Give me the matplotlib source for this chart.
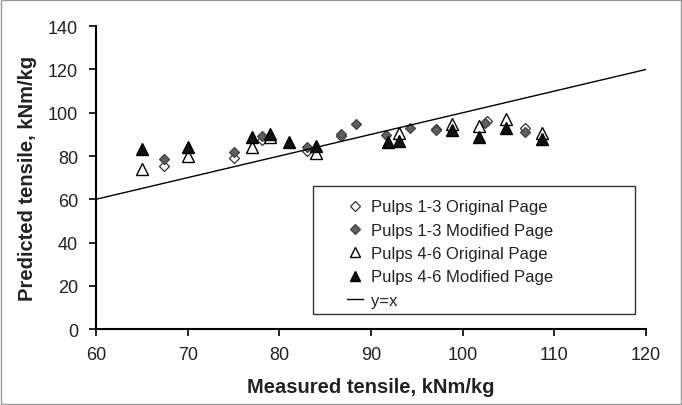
import matplotlib.pyplot as plt
from matplotlib.patches import Rectangle

plt.rcParams['font.family'] = ['Liberation Sans', 'DejaVu Sans']

# Pulps 1-3 Original Page (open diamonds)
orig13_x = [67.4, 75.0, 78.1, 83.0, 86.7, 97.1, 102.6, 106.8]
orig13_y = [75.2, 79.0, 87.4, 82.2, 89.2, 92.3, 96.2, 93.0]

# Pulps 1-3 Modified Page (grey diamonds)
mod13_x = [67.4, 75.0, 78.1, 83.0, 86.7, 88.35, 91.6, 94.2, 97.1, 102.4, 106.8]
mod13_y = [78.6, 82.0, 89.3, 84.0, 90.2, 95.0, 89.6, 93.0, 91.9, 95.3, 91.0]

# Pulps 4-6 Original Page (open triangles)
orig46_x = [65.0, 70.0, 77.0, 79.0, 84.0, 93.0, 98.8, 101.8, 104.7, 108.7]
orig46_y = [74.0, 80.2, 84.0, 88.8, 81.2, 90.7, 94.9, 93.8, 97.0, 90.8]

# Pulps 4-6 Modified Page (filled triangles)
mod46_x = [65.0, 70.0, 77.0, 79.0, 81.0, 84.0, 91.9, 93.0, 98.8, 101.8, 104.7, 108.7]
mod46_y = [83.2, 84.0, 88.8, 90.4, 86.5, 84.7, 86.3, 87.0, 91.9, 88.6, 93.0, 87.7]

line_x = [60, 120]

fig = plt.figure(figsize=(6.82, 4.06), dpi=100)
ax = fig.add_axes([0.1408, 0.187, 0.8064, 0.746])

ax.plot(orig13_x, orig13_y, 'D', ms=5.5, mfc='white', mec='#333333', mew=0.9,
        label='Pulps 1-3 Original Page')
ax.plot(mod13_x, mod13_y, 'D', ms=5.5, mfc='#606060', mec='#404040', mew=0.9,
        label='Pulps 1-3 Modified Page')
ax.plot(orig46_x, orig46_y, '^', ms=8, mfc='white', mec='black', mew=1.0,
        label='Pulps 4-6 Original Page')
ax.plot(mod46_x, mod46_y, '^', ms=8, mfc='#111111', mec='black', mew=1.0,
        label='Pulps 4-6 Modified Page')
ax.plot(line_x, line_x, color='black', lw=1.0, label='y=x')

ax.set_xlim(60, 120)
ax.set_ylim(0, 140)
ax.set_xticks(range(60, 121, 10))
ax.set_yticks(range(0, 141, 20))
ax.spines['top'].set_visible(False)
ax.spines['right'].set_visible(False)
for s in ['left', 'bottom']:
    ax.spines[s].set_linewidth(1.5)
ax.tick_params(labelsize=13, length=5, width=1.2, colors='black',
               labelcolor='#222222')
ax.tick_params(axis='x', pad=7)
ax.tick_params(axis='y', pad=8)

ax.set_xlabel('Measured tensile, kNm/kg', fontsize=14.5, fontweight='bold',
              labelpad=10, color='#222222')
ax.set_ylabel('Predicted tensile, kNm/kg', fontsize=14.5, fontweight='bold',
              labelpad=8, color='#222222')

leg = ax.legend(loc='upper left', bbox_to_anchor=(0.456, 0.428), fontsize=12,
                frameon=False, borderpad=0, borderaxespad=0,
                labelspacing=0.5, handlelength=1.0, handletextpad=0.45,
                markerscale=0.85)
for t in leg.get_texts():
    t.set_color('#222222')

ax.add_patch(Rectangle((0.394, 0.0495), 0.586, 0.4215, transform=ax.transAxes,
                       fill=False, edgecolor='#333333', lw=1.0, zorder=5))

fig.patches.append(Rectangle((0.002, 0.003), 0.996, 0.994, transform=fig.transFigure,
                             fill=False, edgecolor='#999999', lw=1.0))

fig.savefig('out.png', dpi=100)
